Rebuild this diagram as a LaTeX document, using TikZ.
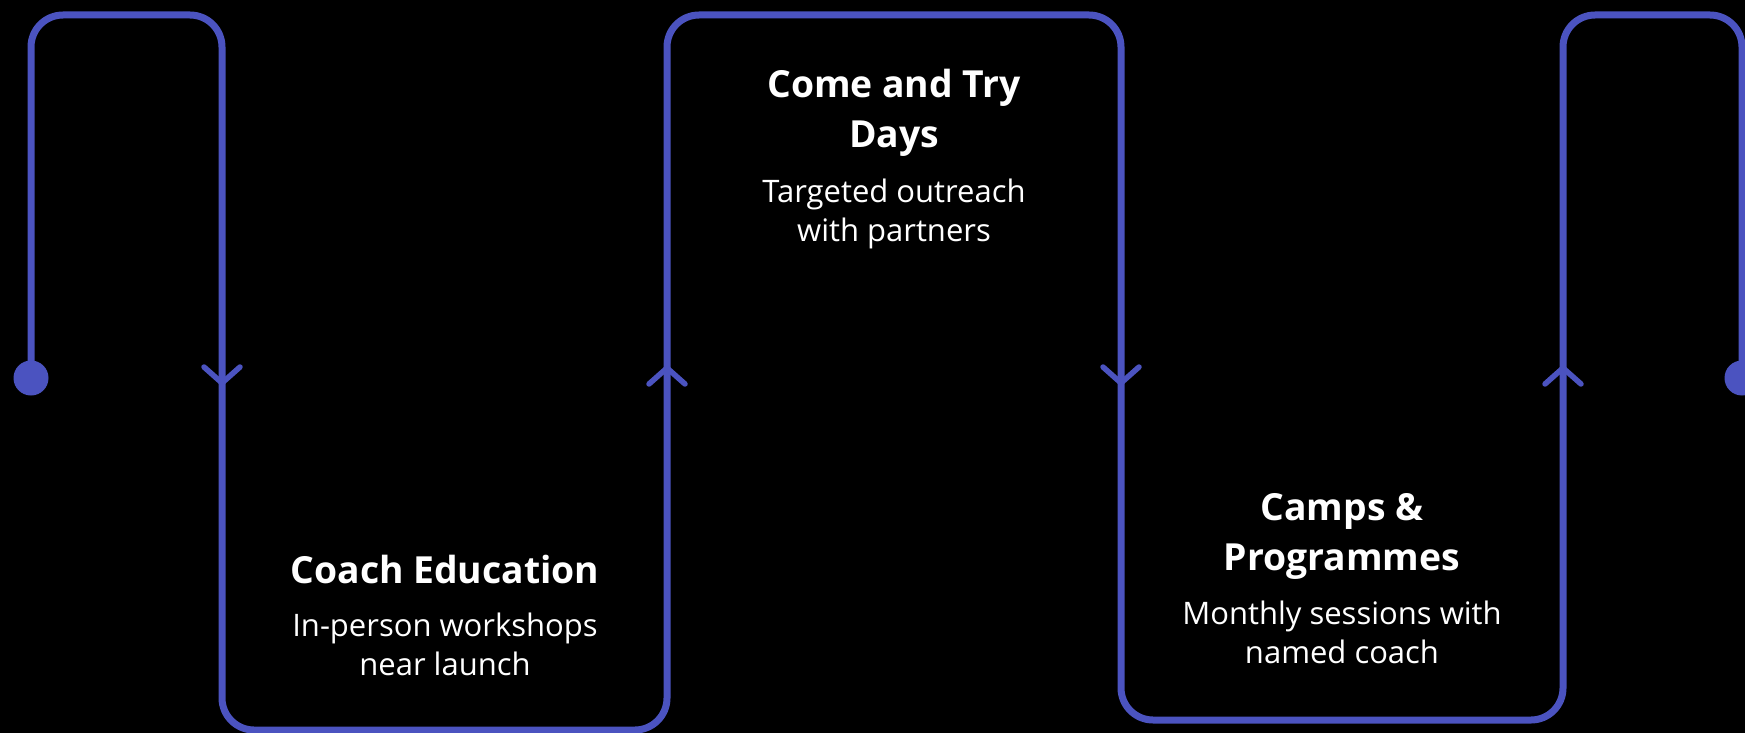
\documentclass[tikz,border=0pt]{standalone}
\usepackage{fontspec}
\setmainfont{Open Sans}
\usetikzlibrary{calc}
\begin{document}
\begin{tikzpicture}[x=1pt,y=-1pt,
  flow/.style={draw=flowblue,line width=7pt,rounded corners=32pt},
  chevron/.style={draw=flowblue,line width=5.5pt,line cap=round,line join=round},
  enddot/.style={circle,fill=flowblue,inner sep=0pt,minimum size=35pt},
  title/.style={text=white,align=center,anchor=base,font=\fontsize{37.3}{50}\selectfont\bfseries},
  sub/.style={text=white,align=center,anchor=base,font=\fontsize{31}{38.5}\selectfont}]
\definecolor{flowblue}{RGB}{75,83,192}
\fill[black] (0,0) rectangle (1745,733);
\useasboundingbox (0,0) rectangle (1745,733);
% route
\coordinate (s) at (31,378);
\coordinate (e) at (1742,378);
\draw[flow] (s) -- (31,15) -- (222,15) -- (222,730) -- (667,730) -- (667,15)
  -- (1121,15) -- (1121,720) -- (1563,720) -- (1563,15) -- (1742,15) -- (e);
\node[enddot] (startdot) at (s) {};
\node[enddot] (enddot) at (e) {};
% chevrons
\coordinate (d1) at (222,383);
\coordinate (u1) at (667,368);
\coordinate (d2) at (1121,383);
\coordinate (u2) at (1563,368);
\foreach \c in {d1,d2} \draw[chevron] ($(\c)+(-18,-16)$) -- (\c) -- ($(\c)+(18,-16)$);
\foreach \c in {u1,u2} \draw[chevron] ($(\c)+(-18,16)$) -- (\c) -- ($(\c)+(18,16)$);
% texts (anchor = baseline of the last line)
\node[title] (t1) at (445,583) {Coach Education};
\node[sub] (s1) at (445,675) {In-person workshops\\near launch};
\node[title] (t2) at (894,147) {Come and Try\\Days};
\node[sub] (s2) at (894,241) {Targeted outreach\\with partners};
\node[title] (t3) at (1342,570) {Camps \&\\Programmes};
\node[sub] (s3) at (1342,663) {Monthly sessions with\\named coach};
\end{tikzpicture}
\end{document}
